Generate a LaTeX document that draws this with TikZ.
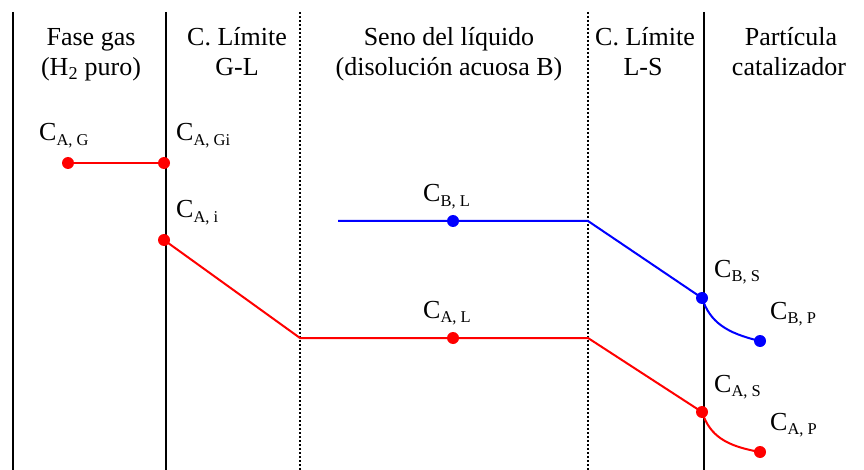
\documentclass[tikz,border=0pt]{standalone}
\usepackage{fontspec}
\setmainfont{Liberation Serif}
\definecolor{myred}{RGB}{255,0,0}
\definecolor{myblue}{RGB}{0,0,255}
\newcommand{\conc}[1]{C{\fontsize{16.5}{16.5}\selectfont\raisebox{-4.5pt}{#1}}}
\tikzset{
  solidwall/.style={line width=2.2pt, black},
  dotwall/.style={line width=2.6pt, black, dash pattern=on 2.2pt off 1.8pt},
  head/.style={anchor=base, inner sep=0pt, font=\fontsize{26}{26}\selectfont},
  lab/.style={anchor=base west, inner sep=0pt, font=\fontsize{26}{26}\selectfont},
  rdot/.style={circle, fill=myred, inner sep=0pt, minimum size=12pt},
  bdot/.style={circle, fill=myblue, inner sep=0pt, minimum size=12pt},
  rline/.style={myred, line width=2pt},
  bline/.style={myblue, line width=2pt},
}
\begin{document}
\begin{tikzpicture}[x=1pt,y=-1pt]
\useasboundingbox (0,0) rectangle (864,470);
% walls
\coordinate (w1t) at (13,12);  \coordinate (w1b) at (13,470);
\coordinate (w2t) at (166,12); \coordinate (w2b) at (166,470);
\coordinate (w3t) at (300,12); \coordinate (w3b) at (300,470);
\coordinate (w4t) at (588,12); \coordinate (w4b) at (588,470);
\coordinate (w5t) at (704,12); \coordinate (w5b) at (704,470);
\draw[solidwall] (w1t) -- (w1b);
\draw[solidwall] (w2t) -- (w2b);
\draw[dotwall] (w3t) -- (w3b);
\draw[dotwall] (w4t) -- (w4b);
\draw[solidwall] (w5t) -- (w5b);
% headers
\node[head] (h1a) at (91,46) {Fase gas};
\node[head] (h1b) at (91,76) {(H\textsubscript{2} puro)};
\node[head] (h2a) at (237,46) {C. Límite};
\node[head] (h2b) at (237,76) {G-L};
\node[head] (h3a) at (449,46) {Seno del líquido};
\node[head] (h3b) at (449,76) {(disolución acuosa B)};
\node[head] (h4a) at (645,46) {C. Límite};
\node[head] (h4b) at (643,76) {L-S};
\node[head] (h5a) at (791,46) {Partícula};
\node[head] (h5b) at (789,76) {catalizador};
% profiles
\coordinate (ab) at (300,338);
\coordinate (al2) at (588,338);
\coordinate (bstart) at (338,221);
\coordinate (bl2) at (588,221);
\draw[rline] (68,163) coordinate (agc) -- (164,163) coordinate (agic);
\draw[rline] (164,240) coordinate (aic) -- (ab) -- (al2) -- (702,412) coordinate (asc)
  .. controls (710,436) and (726,446) .. (760,452) coordinate (apc);
\draw[bline] (bstart) -- (bl2) -- (702,298) coordinate (bsc)
  .. controls (710,322) and (726,333) .. (760,341) coordinate (bpc);
% dots
\node[rdot] (ag) at (agc) {};
\node[rdot] (agi) at (agic) {};
\node[rdot] (ai) at (aic) {};
\node[rdot] (al) at (453,338) {};
\node[rdot] (as) at (asc) {};
\node[rdot] (ap) at (apc) {};
\node[bdot] (bl) at (453,221) {};
\node[bdot] (bs) at (bsc) {};
\node[bdot] (bp) at (bpc) {};
% labels
\node[lab] (lag) at (39,141) {\conc{A, G}};
\node[lab] (lagi) at (176,141) {\conc{A, Gi}};
\node[lab] (lai) at (176,218) {\conc{A, i}};
\node[lab] (lbl) at (423,202) {\conc{B, L}};
\node[lab] (lal) at (423,318) {\conc{A, L}};
\node[lab] (lbs) at (714,277) {\conc{B, S}};
\node[lab] (lbp) at (770,319) {\conc{B, P}};
\node[lab] (las) at (714,392) {\conc{A, S}};
\node[lab] (lap) at (770,430) {\conc{A, P}};
\end{tikzpicture}
\end{document}
